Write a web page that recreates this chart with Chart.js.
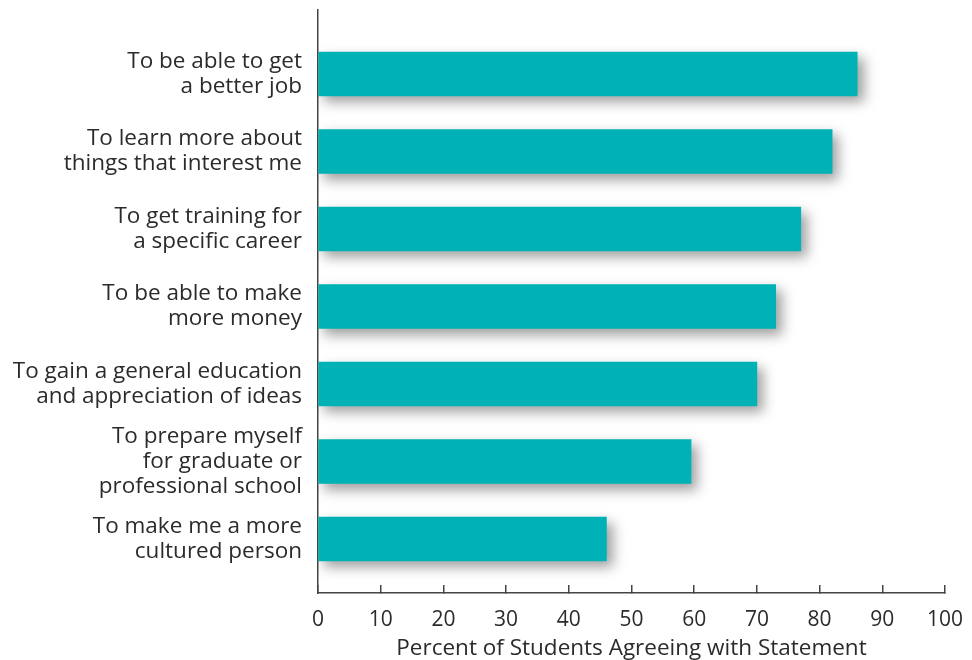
<!DOCTYPE html>
<html>
<head>
<meta charset="utf-8">
<script src="https://cdn.jsdelivr.net/npm/chart.js@4.4.1/dist/chart.umd.min.js"></script>
<style>
  html, body { margin: 0; padding: 0; background: #ffffff; }
  #wrap { width: 972px; height: 660px; position: relative; }
</style>
</head>
<body>
<div id="wrap"><canvas id="c" width="972" height="660"></canvas></div>
<script>
const categories = [
  ["To be able to get", "a better job"],
  ["To learn more about", "things that interest me"],
  ["To get training for", "a specific career"],
  ["To be able to make", "more money"],
  ["To gain a general education", "and appreciation of ideas"],
  ["To prepare myself", "for graduate or", "professional school"],
  ["To make me a more", "cultured person"]
];
const percentAgreeing = [86, 82, 77, 73, 70, 59.5, 46];
const xTickValues = [0, 10, 20, 30, 40, 50, 60, 70, 80, 90, 100];
const xAxisTitle = "Percent of Students Agreeing with Statement";

const FONT = "'Open Sans', 'Noto Sans', sans-serif";
const TEXT = "#2b2b2b";
const AXIS = "#444444";
const Y_MIN = -0.826, Y_MAX = 6.697;

const shadowPlugin = {
  id: 'barShadow',
  beforeDatasetsDraw(chart) {
    const ctx = chart.ctx;
    ctx.save();
    ctx.shadowColor = 'rgba(0,0,0,0.38)';
    ctx.shadowBlur = 12;
    ctx.shadowOffsetX = 6;
    ctx.shadowOffsetY = 6;
  },
  afterDatasetsDraw(chart) {
    chart.ctx.restore();
  }
};

new Chart(document.getElementById('c'), {
  type: 'bar',
  data: {
    datasets: [{
      data: percentAgreeing.map((v, i) => ({ x: v, y: i })),
      backgroundColor: '#00b2b5',
      borderWidth: 0,
      barThickness: 44
    }]
  },
  options: {
    indexAxis: 'y',
    responsive: false,
    animation: false,
    devicePixelRatio: 1,
    layout: { padding: { top: 10, right: 27, bottom: 0, left: 0 } },
    plugins: { legend: { display: false }, tooltip: { enabled: false } },
    scales: {
      y: {
        type: 'linear',
        reverse: true,
        offset: false,
        bounds: 'data',
        min: Y_MIN,
        max: Y_MAX,
        afterBuildTicks(scale) {
          scale.ticks = categories.map((c, i) => ({ value: i }));
          scale.min = Y_MIN;
          scale.max = Y_MAX;
        },
        afterFit(scale) {
          scale.width = 318;
          scale.paddingTop = 0;
          scale.paddingBottom = 0;
        },
        grid: { display: false, drawTicks: false, offset: false },
        border: { display: true, color: AXIS, width: 1.5 },
        ticks: {
          padding: 16,
          color: TEXT,
          font: { family: FONT, size: 22.5, lineHeight: 1.11 },
          callback: (v) => categories[v]
        }
      },
      x: {
        type: 'linear',
        min: 0,
        max: 100,
        afterBuildTicks(scale) {
          scale.ticks = xTickValues.map(v => ({ value: v }));
        },
        afterFit(scale) {
          scale.height = 67;
          scale.paddingLeft = 0;
          scale.paddingRight = 0;
        },
        grid: { display: true, drawOnChartArea: false, drawTicks: true, tickLength: -8, color: AXIS, lineWidth: 1.5 },
        border: { display: true, color: AXIS, width: 1.5 },
        ticks: {
          padding: 22,
          color: TEXT,
          maxRotation: 0,
          autoSkip: false,
          font: { family: FONT, size: 21 }
        },
        title: {
          display: true,
          text: xAxisTitle,
          color: TEXT,
          padding: { top: 0, bottom: 0 },
          font: { family: FONT, size: 22.5, lineHeight: 1.0 }
        }
      }
    }
  },
  plugins: [shadowPlugin]
});
</script>
</body>
</html>
